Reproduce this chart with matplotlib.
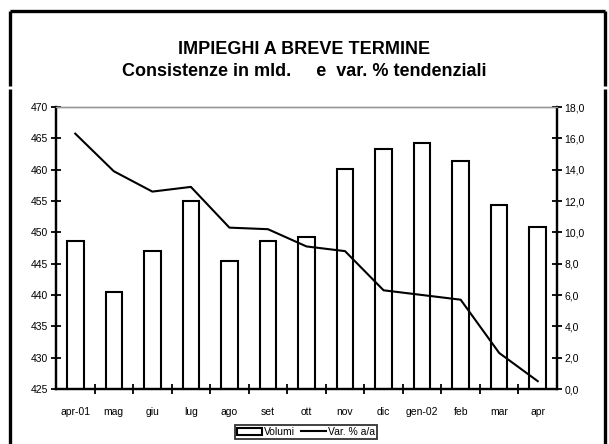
import matplotlib
matplotlib.use("Agg")
import matplotlib.pyplot as plt
import numpy as np
from matplotlib.lines import Line2D
from matplotlib.ticker import FixedLocator, FuncFormatter

plt.rcParams["font.family"] = ["Liberation Sans", "DejaVu Sans"]

months = ["apr-01", "mag", "giu", "lug", "ago", "set", "ott", "nov", "dic",
          "gen-02", "feb", "mar", "apr"]
volumi = [448.6, 440.4, 447.1, 455.0, 445.5, 448.6, 449.3, 460.1, 463.3,
          464.2, 461.4, 454.3, 450.9]
var_pct = [16.3, 13.9, 12.6, 12.9, 10.3, 10.2, 9.1, 8.8, 6.3, 6.0, 5.7, 2.3, 0.5]

W, H = 609, 444
fig = plt.figure(figsize=(W / 100, H / 100), dpi=100)

# outer frame (with the small gap on both sides)
frame_kw = dict(color="black", lw=2.4, transform=fig.transFigure, solid_capstyle="butt")
fx0, fx1 = 9.5 / W, 604.5 / W
fy_top = 1 - 11 / H
fy_gap_hi, fy_gap_lo = 1 - 86 / H, 1 - 89 / H
fig.add_artist(Line2D([fx0, fx1], [fy_top, fy_top], **frame_kw))
for fx in (fx0, fx1):
    fig.add_artist(Line2D([fx, fx], [fy_top, fy_gap_hi], **frame_kw))
    fig.add_artist(Line2D([fx, fx], [fy_gap_lo, 0], **frame_kw))

fig.text(0.5, 1 - 50 / H, "IMPIEGHI A BREVE TERMINE", ha="center", va="center",
         fontsize=13, fontweight="bold")
fig.text(0.5, 1 - 72 / H, "Consistenze in mld.     e  var. % tendenziali", ha="center",
         va="center", fontsize=13, fontweight="bold")

ax = fig.add_axes([56 / W, (H - 389) / H, (557 - 56) / W, (389 - 107) / H])
x = np.arange(len(months))
ax.bar(x, volumi, width=0.43, bottom=0, color="white", edgecolor="black", lw=1.5,
       label="Volumi", zorder=2)
ax.set_ylim(425, 470)
ax.set_xlim(-0.5, len(months) - 0.5)
ax.set_yticks(np.arange(425, 471, 5))
ax.xaxis.set_major_locator(FixedLocator(np.arange(0.5, len(months) - 0.5, 1)))
ax.xaxis.set_major_formatter(FuncFormatter(lambda v, p: ""))
ax.set_xticks(x, months, minor=True)
ax.tick_params(axis="x", which="minor", length=0, labelsize=7.5, pad=13)
ax.tick_params(axis="x", which="major", direction="inout", length=7, width=1.3)
ax.tick_params(axis="y", direction="inout", length=7, width=1.3, labelsize=7.5, pad=2)

ax2 = ax.twinx()
ax2.plot(x, var_pct, color="black", lw=1.5, label="Var. % a/a", zorder=3)
ax2.set_ylim(0, 18)
ax2.set_yticks(np.arange(0, 18.1, 2))
ax2.yaxis.set_major_formatter(FuncFormatter(lambda v, p: f"{v:.1f}".replace(".", ",")))
ax2.tick_params(axis="y", direction="inout", length=7, width=1.3, labelsize=7.5, pad=2)

for a in (ax, ax2):
    a.spines["top"].set_color("#999999")
    a.spines["top"].set_linewidth(1.0)
    for s in ("left", "right", "bottom"):
        a.spines[s].set_linewidth(1.6)
        a.spines[s].set_color("black")

h1, l1 = ax.get_legend_handles_labels()
h2, l2 = ax2.get_legend_handles_labels()
leg = fig.legend(h1 + h2, l1 + l2, loc="center", bbox_to_anchor=(306 / W, 1 - 432 / H),
                 ncol=2, fontsize=7.5, frameon=True, fancybox=False, borderpad=0.2,
                 handlelength=2.4, handletextpad=0.2, columnspacing=0.6,
                 borderaxespad=0)
leg.get_frame().set_edgecolor("black")
leg.get_frame().set_linewidth(1.3)

fig.savefig("out.png", dpi=100)
